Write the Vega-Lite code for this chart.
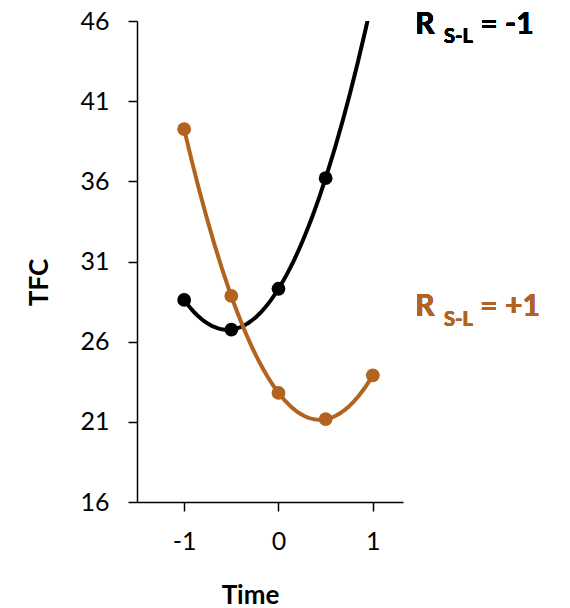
{
  "$schema": "https://vega.github.io/schema/vega-lite/v6.json",
  "autosize": {"type": "none"},
  "width": 266,
  "height": 481,
  "padding": {"left": 137, "top": 21, "right": 167, "bottom": 106},
  "background": "white",
  "config": {"view": {"stroke": null}, "font": "Lato"},
  "data": {
    "values": [
      {"series": "neg", "time": -1, "tfc": 28.6},
      {"series": "neg", "time": -0.5, "tfc": 26.75},
      {"series": "neg", "time": 0, "tfc": 29.3},
      {"series": "neg", "time": 0.5, "tfc": 36.2},
      {"series": "pos", "time": -1, "tfc": 39.25},
      {"series": "pos", "time": -0.5, "tfc": 28.85},
      {"series": "pos", "time": 0, "tfc": 22.8},
      {"series": "pos", "time": 0.5, "tfc": 21.17},
      {"series": "pos", "time": 1, "tfc": 23.9}
    ]
  },
  "encoding": {
    "x": {
      "field": "time",
      "type": "quantitative",
      "scale": {"domain": [-1.5, 1.32], "nice": false, "zero": false},
      "axis": {
        "values": [-1, 0, 1],
        "labelExpr": "'' + datum.value",
        "grid": false,
        "tickSize": 9,
        "tickWidth": 1.5,
        "tickColor": "black",
        "domainWidth": 1.5,
        "domainColor": "black",
        "labelFontSize": 25,
        "labelColor": "black",
        "labelPadding": 18,
        "labelFlush": false,
        "title": "Time",
        "titleFontSize": 26,
        "titleFontWeight": "bold",
        "titleColor": "black",
        "titleX": 113,
        "titleY": 101,
        "titleAlign": "center",
        "titleBaseline": "alphabetic"
      }
    },
    "y": {
      "field": "tfc",
      "type": "quantitative",
      "scale": {"domain": [16, 46], "nice": false, "zero": false},
      "axis": {
        "values": [16, 21, 26, 31, 36, 41, 46],
        "grid": false,
        "tickSize": 9,
        "tickWidth": 1.5,
        "tickColor": "black",
        "domainWidth": 1.5,
        "domainColor": "black",
        "labelFontSize": 25,
        "labelColor": "black",
        "labelPadding": 19,
        "labelFlush": false,
        "title": "TFC",
        "titleFontSize": 26,
        "titleFontWeight": "bold",
        "titleColor": "black",
        "titleAngle": 270,
        "titleX": -90,
        "titleY": 261,
        "titleAlign": "center",
        "titleBaseline": "alphabetic"
      }
    },
    "color": {
      "field": "series",
      "type": "nominal",
      "scale": {"domain": ["neg", "pos"], "range": ["#000000", "#B1631F"]},
      "legend": null
    }
  },
  "layer": [
    {
      "transform": [
        {"regression": "tfc", "on": "time", "groupby": ["series"], "method": "poly", "order": 2, "extent": [-1, 1]}
      ],
      "mark": {"type": "line", "strokeWidth": 4, "clip": true}
    },
    {
      "mark": {"type": "circle", "size": 190, "opacity": 1}
    },
    {
      "mark": {"type": "text", "text": "R", "fontSize": 30, "fontWeight": "bold", "align": "left", "baseline": "alphabetic"},
      "encoding": {"x": {"datum": 1.45}, "y": {"datum": 45.17}, "color": {"value": "black"}}
    },
    {
      "mark": {"type": "text", "text": "S-L", "fontSize": 20, "fontWeight": "bold", "align": "left", "baseline": "alphabetic"},
      "encoding": {"x": {"datum": 1.755}, "y": {"datum": 44.61}, "color": {"value": "black"}}
    },
    {
      "mark": {"type": "text", "text": "= -1", "fontSize": 30, "fontWeight": "bold", "align": "left", "baseline": "alphabetic"},
      "encoding": {"x": {"datum": 2.14}, "y": {"datum": 45.17}, "color": {"value": "black"}}
    },
    {
      "mark": {"type": "text", "text": "R", "fontSize": 30, "fontWeight": "bold", "align": "left", "baseline": "alphabetic"},
      "encoding": {"x": {"datum": 1.45}, "y": {"datum": 27.58}, "color": {"value": "#B1631F"}}
    },
    {
      "mark": {"type": "text", "text": "S-L", "fontSize": 20, "fontWeight": "bold", "align": "left", "baseline": "alphabetic"},
      "encoding": {"x": {"datum": 1.755}, "y": {"datum": 26.96}, "color": {"value": "#B1631F"}}
    },
    {
      "mark": {"type": "text", "text": "= +1", "fontSize": 30, "fontWeight": "bold", "align": "left", "baseline": "alphabetic"},
      "encoding": {"x": {"datum": 2.14}, "y": {"datum": 27.58}, "color": {"value": "#B1631F"}}
    }
  ]
}
